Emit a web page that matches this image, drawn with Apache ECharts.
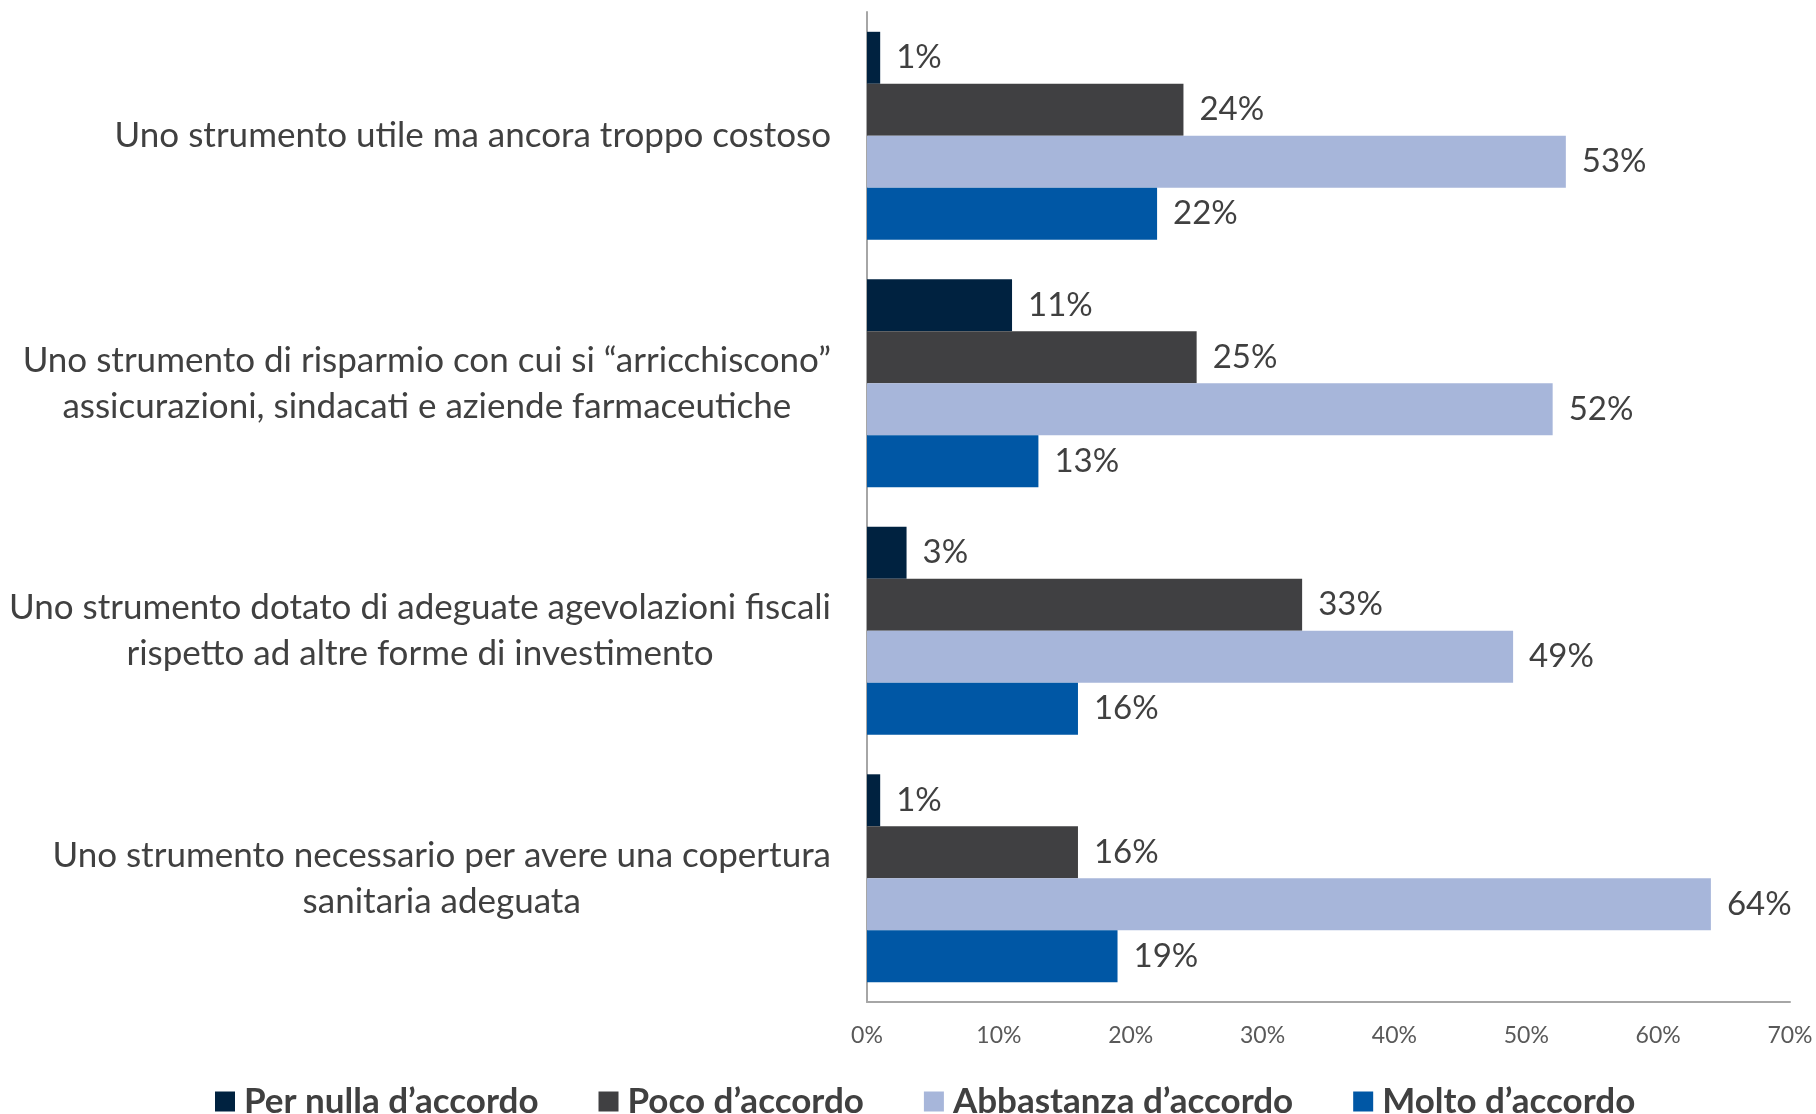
<!DOCTYPE html>
<html>
<head>
<meta charset="utf-8">
<script src="https://cdn.jsdelivr.net/npm/echarts@6/dist/echarts.min.js"></script>
<style>
  html, body { margin: 0; padding: 0; background: #fff; }
  #chart { width: 1816px; height: 1114px; }
</style>
</head>
<body>
<div id="chart"></div>
<script>
const categories = [
  "Uno strumento utile ma ancora troppo costoso",
  "Uno strumento di risparmio con cui si “arricchiscono”\nassicurazioni, sindacati e aziende farmaceutiche",
  "Uno strumento dotato di adeguate agevolazioni fiscali\nrispetto ad altre forme di investimento",
  "Uno strumento necessario per avere una copertura\nsanitaria adeguata"
];
const seriesNames = ["Per nulla d’accordo", "Poco d’accordo", "Abbastanza d’accordo", "Molto d’accordo"];
const perNulla = [1, 11, 3, 1];
const poco = [24, 25, 33, 16];
const abbastanza = [53, 52, 49, 64];
const molto = [22, 13, 16, 19];
const xTicks = [0, 10, 20, 30, 40, 50, 60, 70];

const colors = ["#002240", "#404042", "#A7B6DA", "#0057A5"];
const font = "Lato, 'Open Sans', sans-serif";

const chart = echarts.init(document.getElementById("chart"));

function makeSeries(name, data, color) {
  return {
    name: name,
    type: "bar",
    data: data,
    barGap: "0%",
    barCategoryGap: "16%",
    itemStyle: { color: color },
    label: {
      show: true,
      position: "right",
      distance: 16,
      formatter: "{c}%",
      color: "#404040",
      fontFamily: font,
      fontSize: 33
    }
  };
}

chart.setOption({
  animation: false,
  color: colors,
  grid: { left: 867, right: 26, top: 12, bottom: 112 },
  legend: {
    left: 210,
    top: 1079,
    itemWidth: 20,
    itemHeight: 20,
    itemGap: 60,
    icon: "rect",
    data: seriesNames,
    textStyle: { color: "#404040", fontFamily: font, fontSize: 35, fontWeight: "bold", padding: [0, 0, 0, 4] }
  },
  xAxis: {
    type: "value",
    min: xTicks[0],
    max: xTicks[xTicks.length - 1],
    interval: 10,
    splitLine: { show: false },
    axisTick: { show: false },
    axisLine: { show: true, lineStyle: { color: "#A6A6A6", width: 2 } },
    axisLabel: {
      formatter: "{value}%",
      color: "#595959",
      fontFamily: font,
      fontSize: 23,
      margin: 22
    }
  },
  yAxis: {
    type: "category",
    inverse: true,
    data: categories,
    axisTick: { show: false },
    axisLine: { show: true, lineStyle: { color: "#A6A6A6", width: 2 } },
    axisLabel: {
      margin: 36,
      align: "right",
      formatter: (v) => `{c|${v}}`,
      rich: {
        c: { align: "center", color: "#404040", fontFamily: font, fontSize: 35, lineHeight: 46 }
      }
    }
  },
  series: [
    makeSeries(seriesNames[0], perNulla, colors[0]),
    makeSeries(seriesNames[1], poco, colors[1]),
    makeSeries(seriesNames[2], abbastanza, colors[2]),
    makeSeries(seriesNames[3], molto, colors[3])
  ]
});
</script>
</body>
</html>
